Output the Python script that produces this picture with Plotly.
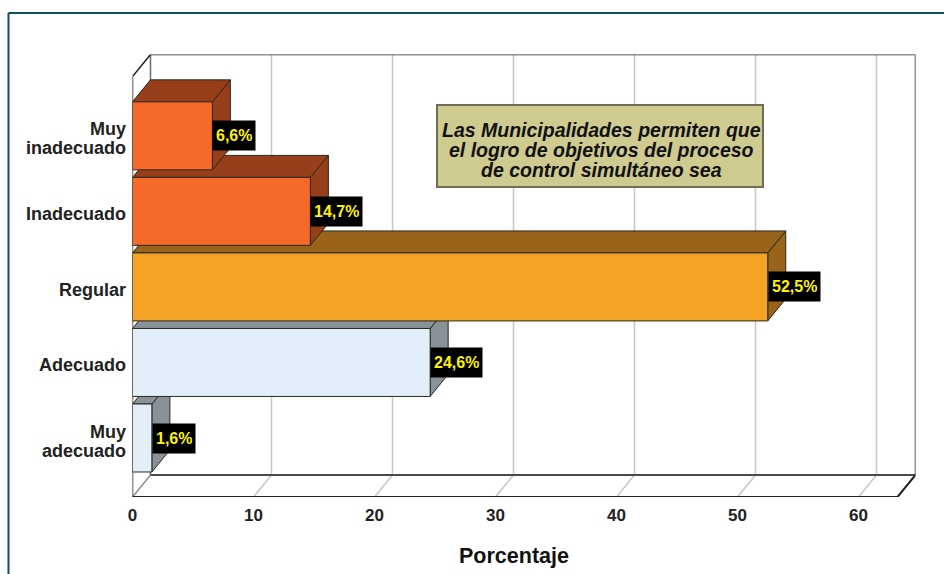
import plotly.graph_objects as go

categories = [["Muy", "adecuado"], ["Adecuado"], ["Regular"], ["Inadecuado"], ["Muy", "inadecuado"]]
values = [1.6, 24.6, 52.5, 14.7, 6.6]
value_labels = ["1,6%", "24,6%", "52,5%", "14,7%", "6,6%"]
x_ticks = [0, 10, 20, 30, 40, 50, 60]
front_colors = ["#E2EEFA", "#E2EEFA", "#F5A327", "#F5692B", "#F5692B"]
shade_colors = ["#8A9299", "#8A9299", "#99641A", "#963F1A", "#963F1A"]
title_lines = ["Las Municipalidades permiten que", "el logro de objetivos del proceso", "de control simultáneo sea"]
x_title = "Porcentaje"

W, H = 944, 574
PX_X = 12.1
PX_Y = 75.54
X0, X1 = 132.5, 915.5
YB, YT = 497, 54.5
DX = 18 / PX_X
DY = 22 / PX_Y
XMAX = (X1 - X0) / PX_X
YMIN = -59 / PX_Y
YMAX = YMIN + (YB - YT) / PX_Y
FRONT_END = XMAX - DX
FRONT_TOP = YMAX - DY
BAR_H = 0.45
FONT = "Liberation Sans"

fig = go.Figure()


def line(xs, ys, color, width):
    fig.add_trace(go.Scatter(x=xs, y=ys, mode="lines", line=dict(color=color, width=width),
                             hoverinfo="skip", showlegend=False, cliponaxis=False))


def poly(xs, ys, fill, edge="#2a2a1a"):
    fig.add_trace(go.Scatter(x=xs + xs[:1], y=ys + ys[:1], mode="lines", fill="toself", fillcolor=fill,
                             line=dict(color=edge, width=1), hoverinfo="skip", showlegend=False,
                             cliponaxis=False))


# grid on back wall and floor
for v in x_ticks[1:]:
    line([v + DX, v + DX], [YMIN + DY, YMAX], "#C6C6C6", 1.5)
    line([v, v + DX], [YMIN, YMIN + DY], "#C6C6C6", 1.5)

# walls
line([0, DX], [YMIN, YMIN + DY], "#8C8C8C", 1.5)
line([DX, DX], [YMIN + DY, YMAX], "#6E6E6E", 1.5)
line([DX, XMAX], [YMIN + DY, YMIN + DY], "#4A4A4A", 2)
line([DX, XMAX, XMAX], [YMAX, YMAX, YMIN + DY], "#222222", 1.5)
line([0, 0, DX], [YMIN, FRONT_TOP, YMAX], "#222222", 1.5)
line([0, FRONT_END, XMAX], [YMIN, YMIN, YMIN + DY], "#222222", 2)

# bars, bottom bar first
for i, v in enumerate(values):
    lo, hi = i - BAR_H, i + BAR_H
    poly([v, v + DX, v + DX, v], [lo, lo + DY, hi + DY, hi], shade_colors[i])
    poly([0, DX, v + DX, v], [hi, hi + DY, hi + DY, hi], shade_colors[i])
    poly([0, v, v, 0], [lo, lo, hi, hi], front_colors[i])

for i, v in enumerate(values):
    fig.add_annotation(x=v, y=i, xref="x", yref="y", text=value_labels[i], showarrow=False,
                       xanchor="left", yanchor="middle", bgcolor="#000000", borderpad=3, height=23,
                       font=dict(family=FONT, size=16, color="#FFF200", weight="bold"))

# category labels, one line at a time for the tight leading of the reference
for i, lines in enumerate(categories):
    for k, txt in enumerate(lines):
        shift = (len(lines) - 1) * 9.5 - k * 19
        fig.add_annotation(x=127.5 / W, y=i, xref="paper", yref="y", yshift=shift - 3, text=txt, showarrow=False,
                           xanchor="right", yanchor="middle",
                           font=dict(family=FONT, size=18, color="#222222", weight="bold"))

# note box
fig.add_annotation(x=600 / W, y=1 - 146 / H, xref="paper", yref="paper", text=" ", showarrow=False,
                   xanchor="center", yanchor="middle", width=322, height=78,
                   bgcolor="#CFCB90", bordercolor="#6F6E55", borderwidth=2,
                   font=dict(size=10))
for k, txt in enumerate(title_lines):
    fig.add_annotation(x=601.5 / W, y=1 - (130 + k * 20) / H, xref="paper", yref="paper", text=txt, showarrow=False,
                       xanchor="center", yanchor="middle",
                       font=dict(family=FONT, size=19.5, color="#111111", weight="bold", style="italic"))

# axis title
fig.add_annotation(x=513.5 / W, y=1 - 555.5 / H, xref="paper", yref="paper", text=x_title, showarrow=False,
                   xanchor="center", yanchor="middle",
                   font=dict(family=FONT, size=21.5, color="#111111", weight="bold"))

# outer frame
for sx in [dict(x0=8.5 / W, x1=8.5 / W, y0=-0.1, y1=1 - 13 / H), dict(x0=8.5 / W, x1=1.1, y0=1 - 13 / H, y1=1 - 13 / H)]:
    fig.add_shape(type="line", xref="paper", yref="paper", line=dict(color="#0F5163", width=2), **sx)

fig.update_layout(
    width=W, height=H, margin=dict(l=0, r=0, t=0, b=0, autoexpand=False),
    paper_bgcolor="white", plot_bgcolor="white", showlegend=False,
    xaxis=dict(domain=[X0 / W, X1 / W], range=[0, XMAX], tickvals=x_ticks, showgrid=False, zeroline=False,
               showline=False, ticks="", ticklabelstandoff=6,
               tickfont=dict(family=FONT, size=17, color="#222222", weight="bold")),
    yaxis=dict(domain=[1 - YB / H, 1 - YT / H], range=[YMIN, YMAX], tickvals=list(range(len(categories))),
               showticklabels=False, showgrid=False, zeroline=False, showline=False, ticks=""),
)
fig.write_html("out.html", config=dict(displayModeBar=False),
               post_script="document.body.style.margin='0';")
